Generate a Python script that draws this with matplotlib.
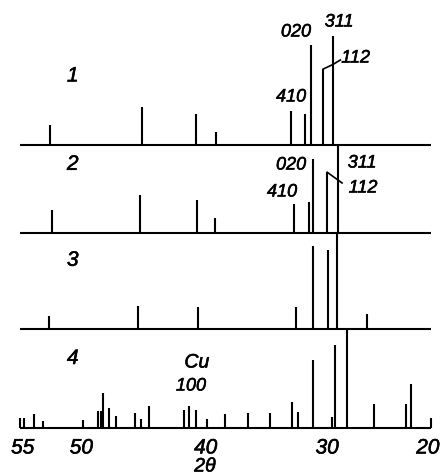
import matplotlib
matplotlib.use("Agg")
import matplotlib.pyplot as plt
import matplotlib.patheffects as pe
from matplotlib.transforms import offset_copy

# ── Stick patterns: 2θ positions (deg) and line heights (arb. units ≈ px) ───────
P1_POS = [52.44, 44.60, 40.00, 38.30, 31.93, 30.71, 30.23, 29.15, 28.35]
P1_INT = [20, 38, 31, 13, 34, 31, 100, 76, 109]

P2_POS = [52.30, 44.77, 39.92, 38.38, 31.65, 30.35, 30.00, 28.81, 27.92]
P2_INT = [23, 38, 33, 15, 29, 31, 74, 61, 88]

P3_POS = [52.53, 44.94, 39.83, 31.48, 30.03, 28.75, 27.98, 25.43]
P3_INT = [13, 23, 22, 22, 83, 79, 96, 15]

P4_POS = [54.66, 53.81, 53.00, 49.66, 48.33, 48.12, 47.90, 47.39, 46.82,
          45.17, 44.65, 43.98, 41.00, 40.57, 40.00, 39.04, 37.53, 35.54,
          33.69, 31.85, 31.33, 30.06, 28.38, 28.16, 27.16, 24.83, 22.13, 21.68]
P4_INT = [10, 14, 7, 7.5, 16.5, 16.5, 34.5, 20, 11.5,
          15, 9, 22, 17.5, 21.5, 18, 8.5, 14, 15,
          15, 26, 16, 68, 10.5, 83, 98, 23.5, 23.5, 43.5]

PANEL_NAMES = ["1", "2", "3", "4"]
X_TICKS = [55, 50, 40, 30, 20]

# ── layout (image pixel coordinates, y down) ──────────────────────────────────
W, H = 441, 476
BASE_Y = [145, 233.3, 329.3, 427.5]
X_MIN, X_MAX = 55, 20
LW = 1.5
FONT = "Liberation Sans"
TICK_NUDGE = [2, 2, 7, 10, -2]   # hand-lettered labels sit a bit off their ticks (pt)

fig = plt.figure(figsize=(W / 100, H / 100), dpi=100, facecolor="white")
ax = fig.add_axes([0, 0, 1, 1])
ax.set_xlim(56.70, 19.12)
ax.set_ylim(H, 0)
ax.axis("off")

ink = [pe.withStroke(linewidth=0.4, foreground="black")]
txt = dict(family=FONT, style="italic", color="black", ha="center", va="center",
           path_effects=ink)

panels = [(P1_POS, P1_INT), (P2_POS, P2_INT), (P3_POS, P3_INT), (P4_POS, P4_INT)]
for (pos, inten), base, name in zip(panels, BASE_Y, PANEL_NAMES):
    ax.hlines(base, X_MIN, X_MAX, color="black", lw=LW)
    ax.vlines(pos, base, [base - v for v in inten], color="black", lw=LW)
    ax.text(50.5, base - 69, name, fontsize=15, **txt)

# end ticks of the 2θ axis
ax.vlines([X_MIN, X_MAX], BASE_Y[3], BASE_Y[3] - 10, color="black", lw=LW)

# reflection labels, panel 1
b = BASE_Y[0]
ax.text(31.48, 32, "020", fontsize=13, **txt)
ax.text(27.81, 22, "311", fontsize=13, **txt)
ax.text(31.90, 97, "410", fontsize=13, **txt)
ax.text(26.40, 58, "112", fontsize=13, **txt)
ax.plot([P1_POS[7], 28.33, 27.70], [b - P1_INT[7], 64.5, 60], color="black", lw=1.2)

# reflection labels, panel 2
b = BASE_Y[1]
ax.text(31.90, 165, "020", fontsize=13, **txt)
ax.text(32.67, 192, "410", fontsize=13, **txt)
ax.text(25.85, 163, "311", fontsize=13, **txt)
ax.text(25.77, 188, "112", fontsize=13, **txt)
ax.plot([P2_POS[7], 27.55], [b - P2_INT[7], 183], color="black", lw=1.2)

# Cu reflection in panel 4
ax.text(39.92, 363, "Cu", fontsize=14, **txt)
ax.text(40.43, 386, "100", fontsize=13, **txt)

# x tick labels and axis title
for t, dx in zip(X_TICKS, TICK_NUDGE):
    tr = offset_copy(ax.transData, fig=fig, x=dx, y=0, units="points")
    ax.text(t, 448, str(t), fontsize=15, transform=tr, **txt)
ax.text(39.23, 467, "2θ", fontsize=14, **txt)

fig.savefig("out.png", dpi=100, facecolor="white")
